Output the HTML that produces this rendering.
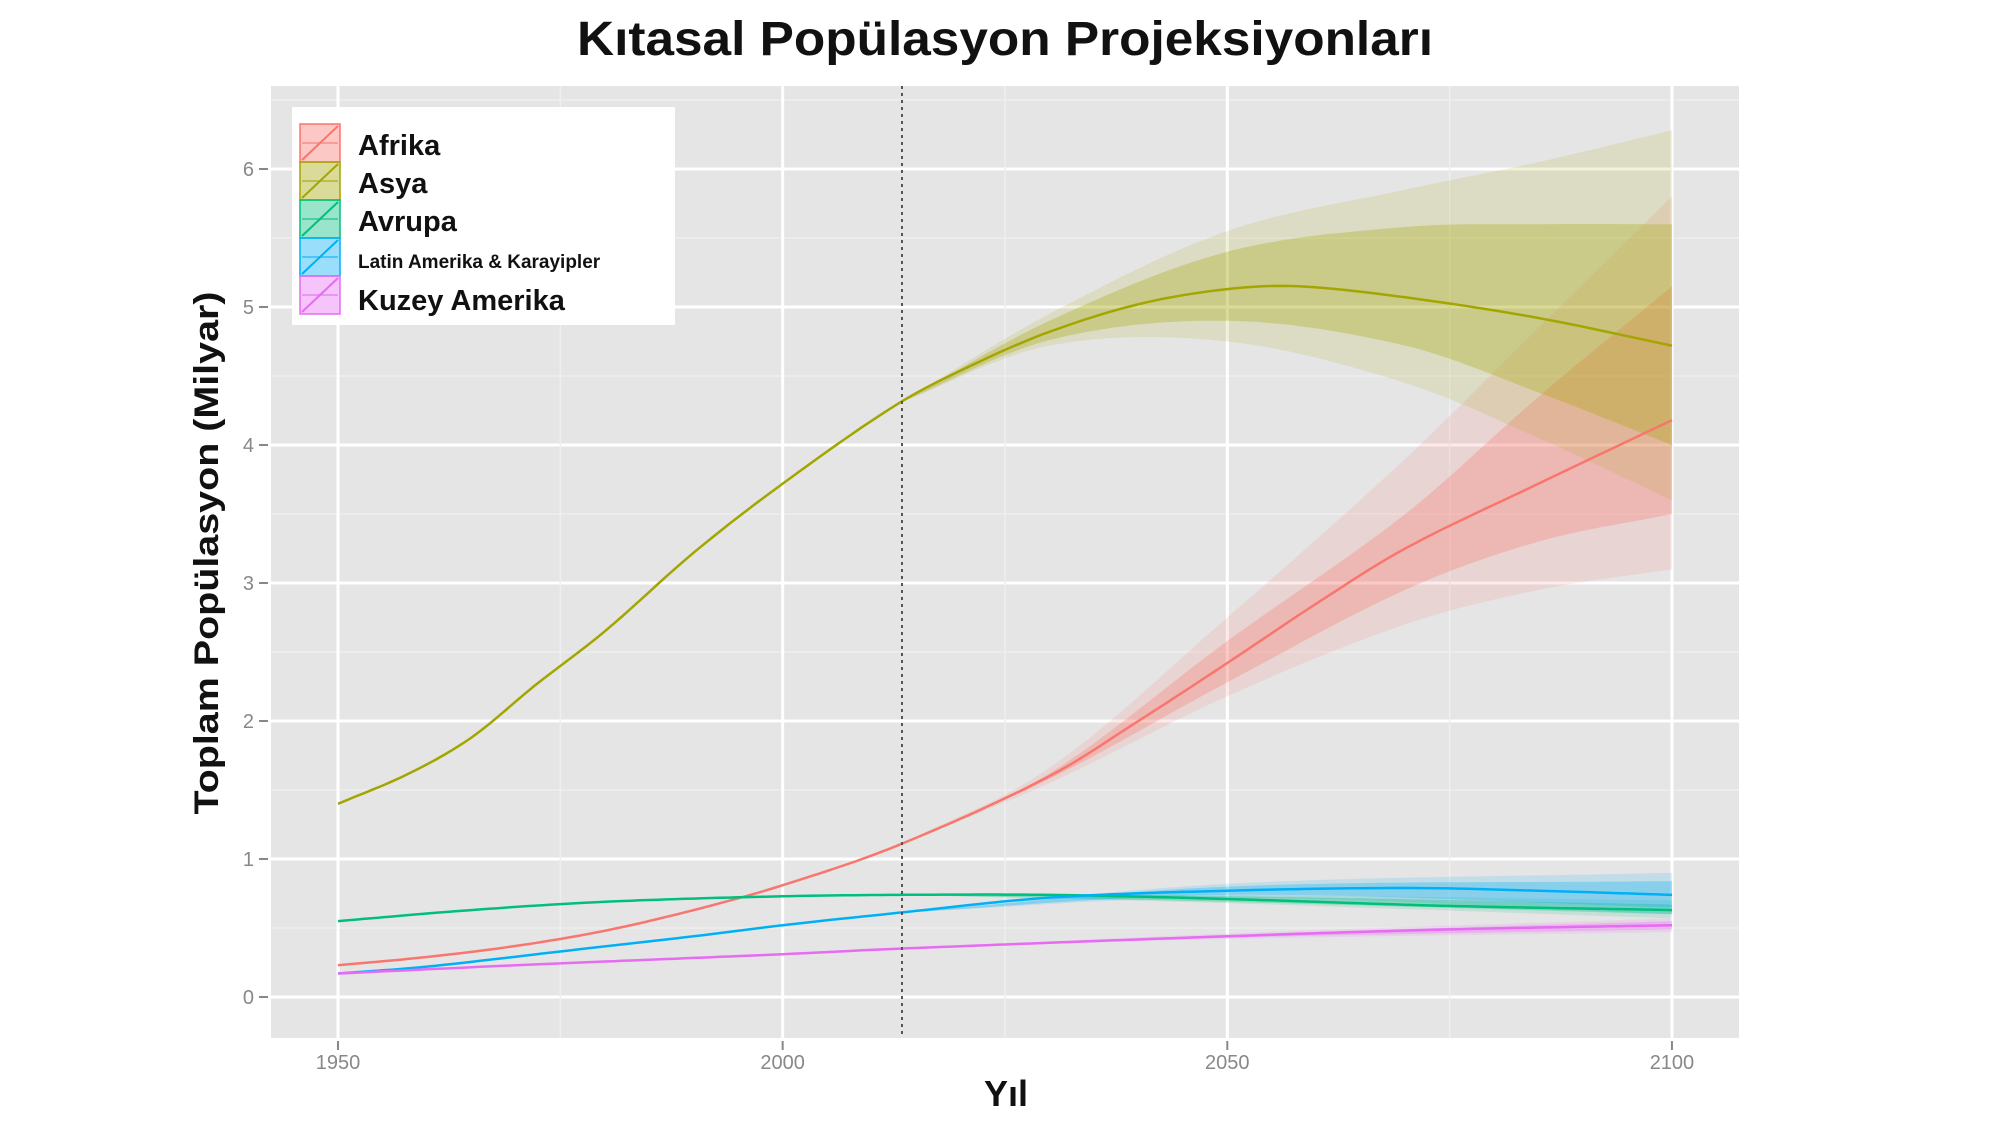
<!DOCTYPE html>
<html><head><meta charset="utf-8"><style>
html,body{margin:0;padding:0;background:#fff;}
svg{display:block;}
text{font-family:"Liberation Sans",sans-serif;}
</style></head><body>
<svg id="s" width="2000" height="1125" viewBox="0 0 2000 1125" xmlns="http://www.w3.org/2000/svg">
<rect x="0" y="0" width="2000" height="1125" fill="#fff"/>
<text x="1005" y="55" text-anchor="middle" font-size="48" font-weight="bold" fill="#111" textLength="856" lengthAdjust="spacingAndGlyphs">Kıtasal Popülasyon Projeksiyonları</text>
<rect x="271" y="86" width="1468" height="952" fill="#e5e5e5"/>
<g id="grid"></g>
<g id="bands"></g>
<g id="lines"></g>
<line x1="902" y1="86" x2="902" y2="1038" stroke="#555" stroke-width="2" stroke-dasharray="3,4"/>
<g id="axes"></g>
<rect x="292" y="107" width="383" height="218" fill="#fff"/>
<g id="legend"></g>
<text x="358" y="155" font-size="29" font-weight="bold" fill="#111">Afrika</text>
<text x="358" y="193" font-size="29" font-weight="bold" fill="#111">Asya</text>
<text x="358" y="231" font-size="29" font-weight="bold" fill="#111">Avrupa</text>
<text x="358" y="268" font-size="19" font-weight="bold" fill="#111">Latin Amerika &amp; Karayipler</text>
<text x="358" y="310" font-size="29" font-weight="bold" fill="#111">Kuzey Amerika</text>
<text transform="translate(218,553) rotate(-90)" text-anchor="middle" font-size="34" font-weight="bold" fill="#111" textLength="523" lengthAdjust="spacingAndGlyphs">Toplam Popülasyon (Milyar)</text>
<text x="1006" y="1106" text-anchor="middle" font-size="36" font-weight="bold" fill="#111">Yıl</text>
</svg>
<script>
const NS="http://www.w3.org/2000/svg";
const X=y=>338+(y-1950)*8.893, Y=v=>997-v*138;
function el(p,t,a){const e=document.createElementNS(NS,t);for(const k in a)e.setAttribute(k,a[k]);document.getElementById(p).appendChild(e);return e;}
for(let v=-0.5;v<=6.5;v+=0.5){const y=Y(v);if(y<86||y>1038)continue;const major=Math.abs(v-Math.round(v))<1e-6;el('grid','line',{x1:271,x2:1739,y1:y,y2:y,stroke:major?'#fff':'#efefef','stroke-width':major?3:1.5});}
for(let yr=1925;yr<=2125;yr+=25){const x=X(yr);if(x<271||x>1739)continue;const major=yr%50==0;el('grid','line',{x1:x,x2:x,y1:86,y2:1038,stroke:major?'#fff':'#efefef','stroke-width':major?3:1.5});}
for(let v=0;v<=6;v++){const y=Y(v);el('axes','line',{x1:259,x2:268,y1:y,y2:y,stroke:'#888','stroke-width':2});const t=el('axes','text',{x:254,y:y+7,'text-anchor':'end','font-size':20,fill:'#888'});t.textContent=v;}
[1950,2000,2050,2100].forEach(yr=>{const x=X(yr);el('axes','line',{x1:x,x2:x,y1:1041,y2:1050,stroke:'#888','stroke-width':2});const t=el('axes','text',{x:x,y:1069,'text-anchor':'middle','font-size':20,fill:'#888'});t.textContent=yr;});
function interp(pts,yr){for(let i=0;i<pts.length-1;i++){if(yr>=pts[i][0]&&yr<=pts[i+1][0]){const p0=pts[Math.max(0,i-1)],p1=pts[i],p2=pts[i+1],p3=pts[Math.min(pts.length-1,i+2)];const t=(yr-p1[0])/(p2[0]-p1[0]);const m1=(p2[1]-p0[1])/(p2[0]-p0[0])*(p2[0]-p1[0]);const m2=(p3[1]-p1[1])/(p3[0]-p1[0])*(p2[0]-p1[0]);const t2=t*t,t3=t2*t;return (2*t3-3*t2+1)*p1[1]+(t3-2*t2+t)*m1+(-2*t3+3*t2)*p2[1]+(t3-t2)*m2;}}return pts[pts.length-1][1];}
function path(pts,a,b){let d='';for(let yr=a;yr<=b+0.001;yr+=1){d+=(d?'L':'M')+X(yr).toFixed(1)+','+Y(interp(pts,yr)).toFixed(1);}return d;}
function band(lo,hi,a,b){let d='';for(let yr=a;yr<=b+0.001;yr+=1)d+=(d?'L':'M')+X(yr).toFixed(1)+','+Y(interp(hi,yr)).toFixed(1);for(let yr=b;yr>=a-0.001;yr-=1)d+='L'+X(yr).toFixed(1)+','+Y(interp(lo,yr)).toFixed(1);return d+'Z';}
const S=[
{c:'#F8766D',m:[[1950,0.23],[1960,0.29],[1970,0.37],[1980,0.48],[1990,0.63],[2000,0.81],[2013,1.1],[2030,1.6],[2040,2.0],[2050,2.42],[2060,2.85],[2070,3.25],[2085,3.72],[2100,4.18]],
 o:[[[2013,1.1],[2030,1.55],[2050,2.18],[2070,2.7],[2085,2.95],[2100,3.1]],[[2013,1.1],[2030,1.66],[2050,2.75],[2070,3.9],[2085,4.85],[2100,5.8]]],
 i:[[[2013,1.1],[2030,1.58],[2050,2.28],[2070,2.95],[2085,3.3],[2100,3.5]],[[2013,1.1],[2030,1.62],[2050,2.58],[2070,3.5],[2085,4.35],[2100,5.15]]]},
{c:'#A3A500',m:[[1950,1.4],[1958,1.62],[1965,1.88],[1972,2.25],[1980,2.65],[1990,3.22],[2000,3.72],[2013,4.3],[2022,4.6],[2030,4.82],[2040,5.02],[2050,5.13],[2058,5.15],[2070,5.07],[2085,4.92],[2100,4.72]],
 o:[[[2013,4.3],[2030,4.72],[2050,4.75],[2070,4.45],[2085,4.05],[2100,3.6]],[[2013,4.3],[2030,4.95],[2050,5.55],[2070,5.85],[2085,6.05],[2100,6.28]]],
 i:[[[2013,4.3],[2030,4.76],[2050,4.9],[2070,4.72],[2085,4.38],[2100,4.0]],[[2013,4.3],[2030,4.9],[2050,5.4],[2070,5.58],[2085,5.6],[2100,5.6]]]},
{c:'#00BF7D',m:[[1950,0.55],[1965,0.63],[1980,0.69],[2000,0.73],[2013,0.74],[2030,0.74],[2050,0.71],[2075,0.66],[2100,0.63]],
 o:[[[2013,0.74],[2050,0.68],[2100,0.57]],[[2013,0.74],[2050,0.74],[2100,0.7]]],
 i:[[[2013,0.74],[2050,0.69],[2100,0.6]],[[2013,0.74],[2050,0.73],[2100,0.67]]]},
{c:'#00B0F6',m:[[1950,0.17],[1960,0.22],[1975,0.33],[1990,0.44],[2000,0.52],[2013,0.61],[2030,0.72],[2050,0.77],[2070,0.79],[2085,0.77],[2100,0.74]],
 o:[[[2013,0.61],[2050,0.72],[2100,0.6]],[[2013,0.61],[2050,0.82],[2100,0.9]]],
 i:[[[2013,0.61],[2050,0.74],[2100,0.65]],[[2013,0.61],[2050,0.8],[2100,0.84]]]},
{c:'#E76BF3',m:[[1950,0.17],[1970,0.23],[2000,0.31],[2013,0.35],[2050,0.44],[2075,0.49],[2100,0.52]],
 o:[[[2013,0.35],[2050,0.42],[2100,0.47]],[[2013,0.35],[2050,0.46],[2100,0.57]]],
 i:[[[2013,0.35],[2050,0.43],[2100,0.49]],[[2013,0.35],[2050,0.45],[2100,0.55]]]}
];
S.forEach(s=>{el('bands','path',{d:band(s.o[0],s.o[1],2013,2100),fill:s.c,'fill-opacity':0.15});el('bands','path',{d:band(s.i[0],s.i[1],2013,2100),fill:s.c,'fill-opacity':0.3});});
S.forEach(s=>{el('lines','path',{d:path(s.m,1950,2100),fill:'none',stroke:s.c,'stroke-width':2.5});});
S.forEach((s,i)=>{const y=124+i*38;el('legend','rect',{x:300,y:y,width:40,height:38,fill:s.c,'fill-opacity':0.4,stroke:s.c,'stroke-width':1.5});el('legend','line',{x1:302,y1:y+36,x2:338,y2:y+2,stroke:s.c,'stroke-width':2});el('legend','line',{x1:302,y1:y+19,x2:338,y2:y+19,stroke:s.c,'stroke-width':1.5,'stroke-opacity':0.7});});
</script>
</body></html>
